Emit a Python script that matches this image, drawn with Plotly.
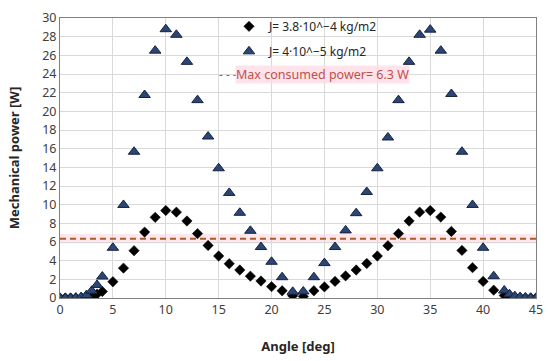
import plotly.graph_objects as go

# Angle samples [deg]
angle = [0, 0.5, 1, 1.5, 2, 2.5, 3, 3.5, 4, 5, 6, 7, 8, 9, 10, 11, 12, 13, 14, 15,
         16, 17, 18, 19, 20, 21, 22, 23, 24, 25, 26, 27, 28, 29, 30, 31, 32, 33, 34,
         35, 36, 37, 38, 39, 40, 41, 42, 42.5, 43, 43.5, 44, 44.5, 45]

# J = 3.8e-4 kg/m2 (diamonds)
power_j1 = [0, 0, 0, 0.01, 0.03, 0.08, 0.2, 0.42, 0.7, 1.74, 3.2, 5.07, 7.06, 8.64, 9.37, 9.2,
            8.25, 6.9, 5.63, 4.5, 3.67, 3.0, 2.34, 1.82, 1.22, 0.77, 0.24, 0.17, 0.77, 1.19,
            1.78, 2.37, 3.0, 3.7, 4.5, 5.6, 6.9, 8.25, 9.2, 9.37, 8.67, 7.13, 5.1, 3.25, 1.78,
            0.84, 0.28, 0.12, 0.05, 0.02, 0.0, 0.0, 0.0]

# J = 4e-5 kg/m2 (triangles)
power_j2 = [0, 0, 0, 0.03, 0.1, 0.31, 0.77, 1.4, 2.3, 5.38, 9.97, 15.67, 21.75, 26.5, 28.8, 28.2,
            25.3, 21.2, 17.3, 13.9, 11.26, 9.13, 7.2, 5.46, 3.88, 2.23, 0.66, 0.7, 2.23, 3.74,
            5.46, 7.24, 9.09, 11.36, 13.9, 17.2, 21.2, 25.3, 28.2, 28.75, 26.5, 21.86, 15.67,
            9.97, 5.38, 2.34, 0.8, 0.4, 0.2, 0.1, 0.05, 0.02, 0.0]

max_power_x = [0, 45]
max_power_y = [6.35, 6.35]

x_ticks = [0, 5, 10, 15, 20, 25, 30, 35, 40, 45]
y_ticks = list(range(0, 31, 2))

font_family = "Noto Sans, Open Sans, DejaVu Sans, sans-serif"

fig = go.Figure()

fig.add_trace(go.Scatter(
    x=max_power_x, y=max_power_y, mode="lines",
    line=dict(color="#a85d2b", width=2, dash="6px,4px"),
    showlegend=False, hoverinfo="skip"))

fig.add_trace(go.Scatter(
    x=angle, y=power_j1, mode="markers", name="J= 3.8·10^−4 kg/m2",
    legendgroup="a",
    marker=dict(symbol="diamond", size=8, color="#000000",
                line=dict(color="#000000", width=0.5))))

fig.add_trace(go.Scatter(
    x=angle, y=power_j2, mode="markers", name="J= 4·10^−5 kg/m2",
    legendgroup="b",
    marker=dict(symbol="triangle-up", size=10, color="#2b4574",
                line=dict(color="#15233f", width=1))))

# pink glow around the max-power line
fig.add_shape(type="rect", xref="paper", x0=0, x1=1, yref="y",
              y0=max_power_y[0] - 0.5, y1=max_power_y[0] + 0.5,
              fillcolor="rgba(255,200,215,0.45)", line=dict(width=0), layer="below")

fig.add_annotation(xref="paper", yref="y", x=(217 - 60) / 476, y=23.9, xanchor="left",
                   yanchor="middle", showarrow=False, text="- - -",
                   font=dict(family=font_family, size=12, color="#c0504d"))
fig.add_annotation(xref="paper", yref="y", x=(235 - 60) / 476, y=23.9, xanchor="left",
                   yanchor="middle", showarrow=False, text="Max consumed power= 6.3 W",
                   bgcolor="rgba(255,220,230,0.8)", borderpad=0,
                   font=dict(family=font_family, size=12.5, color="#c0504d"))

fig.update_layout(
    width=550, height=361,
    margin=dict(l=60, r=14, t=12, b=63),
    paper_bgcolor="white", plot_bgcolor="white",
    font=dict(family=font_family, size=12, color="#404040"),
    legend=dict(x=(229 - 60) / 476, y=1.022, xanchor="left", yanchor="top",
                bgcolor="rgba(0,0,0,0)", tracegroupgap=6, itemwidth=30,
                font=dict(family=font_family, size=12, color="#262626")),
    xaxis=dict(range=[0, 45], tickvals=x_ticks, showgrid=True, gridcolor="#d9d9d9",
               showline=True, linecolor="#808080", linewidth=1, mirror=True,
               zeroline=False, ticks="", tickfont=dict(size=12.5, color="#404040"),
               automargin=False,
               title=dict(text="<b>Angle [deg]</b>", font=dict(size=13, color="#262626"),
                          standoff=24)),
    yaxis=dict(range=[0, 30], tickvals=y_ticks, showgrid=True, gridcolor="#d9d9d9",
               showline=True, linecolor="#808080", linewidth=1, mirror=True,
               zeroline=False, ticks="", tickfont=dict(size=12.5, color="#404040"),
               automargin=False,
               title=dict(text="<b>Mechanical power [W]</b>", font=dict(size=13, color="#262626"),
                          standoff=19)),
)

fig.write_html("out.html", config={"displayModeBar": False},
               post_script="document.body.style.margin='0';")
